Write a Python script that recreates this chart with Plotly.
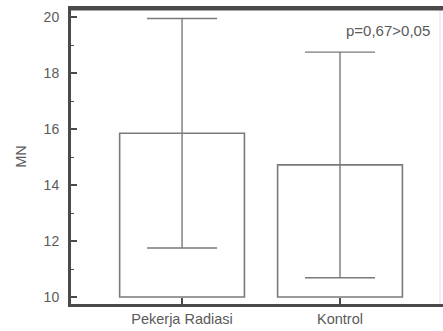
import plotly.graph_objects as go

categories = ["Pekerja Radiasi", "Kontrol"]
means = [15.85, 14.72]
sds = [4.1, 4.03]
baseline = 10
y_ticks = [10, 12, 14, 16, 18, 20]
p_text = "p=0,67>0,05"

fig = go.Figure()
fig.add_trace(go.Bar(
    x=[0, 1],
    y=[m - baseline for m in means],
    base=baseline,
    width=0.79,
    marker=dict(color="white", line=dict(color="#7a7a7a", width=1.6)),
    error_y=dict(type="data", array=sds, symmetric=True, color="#7a7a7a",
                 thickness=1.4, width=35),
    showlegend=False,
    hoverinfo="skip",
))

axis_color = "#4a4a4a"
txt_color = "#5a5a5a"
fig.update_layout(
    width=443, height=331,
    margin=dict(l=71, r=0, t=9, b=27, autoexpand=False),
    paper_bgcolor="white", plot_bgcolor="white",
    font=dict(family="Liberation Sans, Arial, sans-serif", size=14, color=txt_color),
    xaxis=dict(
        range=[-0.703, 1.652], automargin=False,
        tickmode="array", tickvals=[0, 1], ticktext=categories,
        ticks="inside", ticklen=6, tickcolor=axis_color, tickwidth=1.5,
        showline=True, linecolor=axis_color, linewidth=3, mirror=True,
        showgrid=False, zeroline=False,
        tickfont=dict(size=14.5, color=txt_color),
        ticklabelstandoff=0,
    ),
    yaxis=dict(
        range=[9.75, 20.29], automargin=False,
        tickmode="array", tickvals=y_ticks,
        ticks="inside", ticklen=6, tickcolor=axis_color, tickwidth=1.5,
        minor=dict(dtick=1, ticks="inside", ticklen=3, tickcolor=axis_color, tickwidth=1),
        showline=True, linecolor=axis_color, linewidth=3,
        showgrid=False, zeroline=False,
        tickfont=dict(size=14, color=txt_color),
        ticklabelstandoff=6,
        title=dict(text="MN", standoff=14, font=dict(size=14.5, color=txt_color)),
    ),
    annotations=[dict(
        text=p_text, xref="paper", yref="paper", x=0.970, y=0.926,
        xanchor="right", yanchor="middle", showarrow=False,
        font=dict(size=15, color=txt_color),
    )],
    shapes=[
        dict(type="line", xref="paper", yref="paper", x0=0.992, x1=0.992,
             y0=0, y1=1, line=dict(color="#e0e0e0", width=1)),
        dict(type="line", xref="paper", yref="paper", x0=-0.004, x1=1,
             y0=1, y1=1, layer="above", line=dict(color=axis_color, width=3)),
    ],
)

fig.write_html(
    "out.html",
    config={"displayModeBar": False},
    post_script="document.documentElement.style.margin='0';document.body.style.margin='0';document.body.style.padding='0';window.scrollTo(0,0);",
)
